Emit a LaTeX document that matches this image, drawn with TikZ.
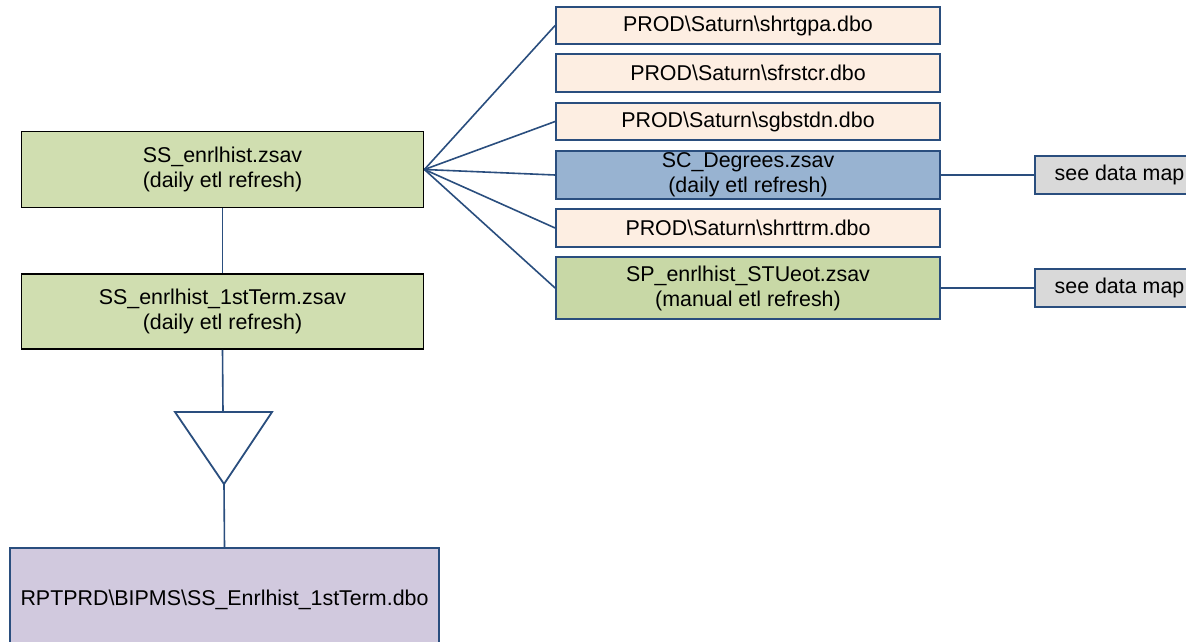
\documentclass[tikz,border=0pt]{standalone}
\usepackage{fontspec}
\setmainfont{Liberation Sans}
\definecolor{bord}{HTML}{2A4E7E}
\definecolor{greenf}{HTML}{D0DEB0}
\definecolor{greenf2}{HTML}{C8D8A6}
\definecolor{peach}{HTML}{FDEEE2}
\definecolor{bluef}{HTML}{98B3D1}
\definecolor{grayf}{HTML}{D9D9D9}
\definecolor{lav}{HTML}{D1C9DE}
\newcommand{\bs}{\textbackslash}
\begin{document}
\begin{tikzpicture}[x=1pt,y=-1pt,
  box/.style={draw=bord, line width=1.8pt, inner sep=0pt, align=center,
    font=\fontsize{21.4}{25}\selectfont},
  leftbox/.style={box, draw=black, fill=greenf, minimum width=402pt, minimum height=76pt},
  srcbox/.style={box, fill=peach, minimum width=384pt},
  mapbox/.style={box, fill=grayf, minimum width=169pt, minimum height=38pt},
  conn/.style={draw=bord, line width=1.6pt}]
\useasboundingbox (0,0) rectangle (1186,642);
\fill[white] (0,0) rectangle (1186,642);
% left column
\node[leftbox] (ss) at (222.5,169.5) {SS\_enrlhist.zsav\\(daily etl refresh)};
\node[leftbox, minimum height=75pt] (ss1) at (222.5,311.5) {SS\_enrlhist\_1stTerm.zsav\\(daily etl refresh)};
\node[box, fill=lav, minimum width=429pt, minimum height=104pt] (rpt) at (224.5,600) {RPTPRD\bs BIPMS\bs SS\_Enrlhist\_1stTerm.dbo};
% triangle
\coordinate (tl) at (175,412);
\coordinate (tr) at (272,412);
\coordinate (ttop) at (223,412);
\coordinate (tap) at (224,484);
\draw[conn, line width=1.8pt, line join=miter] (tl) -- (tr) -- (tap) -- cycle;
% right column
\node[srcbox, minimum height=37pt] (r1) at (748,25.5) {PROD\bs Saturn\bs shrtgpa.dbo};
\node[srcbox, minimum height=38pt] (r2) at (748,73) {PROD\bs Saturn\bs sfrstcr.dbo};
\node[srcbox, minimum height=37pt] (r3) at (748,121.5) {PROD\bs Saturn\bs sgbstdn.dbo};
\node[box, fill=bluef, minimum width=384pt, minimum height=48pt] (r4) at (748,175) {SC\_Degrees.zsav\\(daily etl refresh)};
\node[srcbox, minimum height=38pt] (r5) at (748,228) {PROD\bs Saturn\bs shrttrm.dbo};
\node[box, fill=greenf2, minimum width=384pt, minimum height=62pt] (r6) at (748,288) {SP\_enrlhist\_STUeot.zsav\\(manual etl refresh)};
\node[mapbox] (m1) at (1119.5,175) {see data map};
\node[mapbox] (m2) at (1119.5,288) {see data map};
% connectors
\draw[conn] (ss.south) -- (ss1.north);
\draw[conn] (ss1.south) -- (ttop);
\draw[conn] (tap) -- (rpt.north);
\foreach \t in {r1,r3,r4,r5,r6} \draw[conn] (ss.east) -- (\t.west);
\draw[conn] (r4.east) -- (m1.west);
\draw[conn] (r6.east) -- (m2.west);
\end{tikzpicture}
\end{document}
